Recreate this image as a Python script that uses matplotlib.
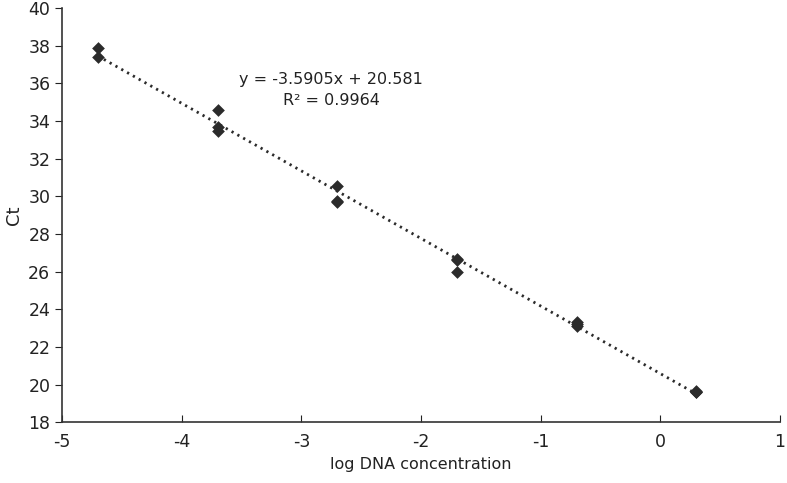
import matplotlib
matplotlib.use("Agg")
import matplotlib.pyplot as plt
import numpy as np

plt.rcParams["axes.unicode_minus"] = False

# ── data ────────────────────────────────────────────────────────────────────
log_conc = [-4.7, -4.7, -3.7, -3.7, -3.7, -2.7, -2.7, -2.7,
            -1.7, -1.7, -1.7, -0.7, -0.7, -0.7, 0.3, 0.3, 0.3]
ct = [37.9, 37.4, 34.6, 33.7, 33.5, 30.55, 29.75, 29.7,
      26.65, 26.0, 26.6, 23.3, 23.1, 23.2, 19.6, 19.6, 19.65]
slope, intercept = -3.5905, 20.581
r2 = 0.9964

# ── plot ────────────────────────────────────────────────────────────────────
fig = plt.figure(figsize=(7.87, 4.83), dpi=100)
ax = fig.add_axes([0.079, 0.126, 0.912, 0.857])

ax.scatter(log_conc, ct, marker="D", s=42, color="#2b2b2b", zorder=3, linewidths=0)

xs = np.array([min(log_conc), max(log_conc)])
ax.plot(xs, slope * xs + intercept, color="#2b2b2b", lw=2, ls=(0, (0.8, 1.6)), zorder=2)

ax.text(-2.75, 36.2, f"y = {slope}x + {intercept}", ha="center", va="center",
        fontsize=11.5, color="#222222")
ax.text(-2.75, 35.1, f"R² = {r2}", ha="center", va="center",
        fontsize=11.5, color="#222222")

ax.set_xlim(-5, 1)
ax.set_ylim(18, 40)
ax.set_xticks(range(-5, 2))
ax.set_yticks(range(18, 41, 2))
ax.set_xlabel("log DNA concentration", fontsize=11.5, color="#222222")
ax.set_ylabel("Ct", fontsize=13, color="#222222")

for s in ("top", "right"):
    ax.spines[s].set_visible(False)
for s in ("left", "bottom"):
    ax.spines[s].set_color("#333333")
    ax.spines[s].set_linewidth(1.2)
ax.tick_params(axis="x", direction="in", length=5, labelsize=12.5, colors="#222222", pad=8)
ax.tick_params(axis="y", direction="out", length=5, labelsize=12.5, colors="#222222")

plt.savefig("out.png", dpi=100)
